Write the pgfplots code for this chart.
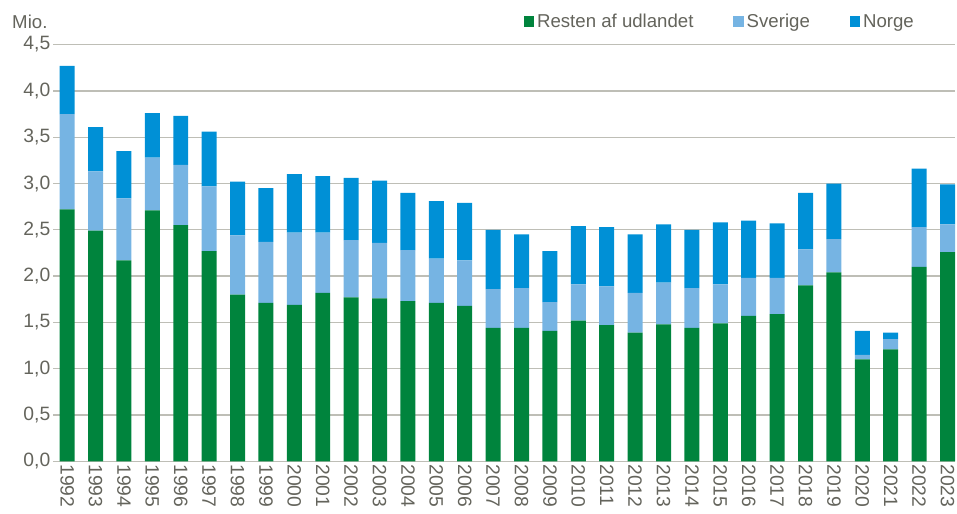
\documentclass[border=0pt]{standalone}
\usepackage{pgfplots}
\pgfplotsset{compat=1.18}
\usepackage{fontspec}
\setmainfont{Liberation Sans}
\definecolor{cgreen}{RGB}{0,132,61}
\definecolor{clight}{RGB}{118,180,227}
\definecolor{cblue}{RGB}{0,144,214}
\definecolor{ctext}{RGB}{100,100,92}
\definecolor{cgrid}{RGB}{190,190,182}
\begin{document}
\begin{tikzpicture}
\begin{axis}[
  scale only axis,
  width=677.8pt, height=313.2pt,
  ybar stacked, bar width=11.25pt,
  xmin=-0.49, xmax=31.27,
  ymin=0, ymax=4.5,
  ytick={0,0.5,...,4.5},
  xtick={0,...,31},
  xticklabels={1992,1993,1994,1995,1996,1997,1998,1999,2000,2001,2002,2003,2004,2005,2006,2007,2008,2009,2010,2011,2012,2013,2014,2015,2016,2017,2018,2019,2020,2021,2022,2023},
  xticklabel style={rotate=-90, anchor=west, font=\fontsize{14.5}{16}\selectfont, text=ctext, inner sep=2pt},
  yticklabel style={font=\fontsize{14.5}{16}\selectfont, text=ctext, inner sep=2pt},
  yticklabel={\pgfmathprintnumber[use comma,fixed,fixed zerofill,precision=1,assume math mode=true]{\tick}},
  ymajorgrids, grid style={cgrid, line width=1pt},
  axis lines*=left,
  x axis line style={cgrid, line width=1pt, -},
  y axis line style={draw=none},
  major tick length=0pt,
  tick style={draw=none},
  clip=false,
  legend style={draw=none, at={(0.517,1.055)}, anchor=west, font=\fontsize{14}{16}\selectfont, text=ctext, legend columns=3, /tikz/every even column/.append style={column sep=28pt}},
  legend image code/.code={\fill[#1] (0pt,-4pt) rectangle (8pt,4pt);},
]
\addplot[fill=cgreen, draw=none] coordinates {
(0,2.72) (1,2.49) (2,2.17) (3,2.71) (4,2.55) (5,2.27) (6,1.80) (7,1.71) (8,1.69) (9,1.82)
(10,1.77) (11,1.76) (12,1.73) (13,1.71) (14,1.68) (15,1.44) (16,1.44) (17,1.41) (18,1.52) (19,1.47)
(20,1.39) (21,1.48) (22,1.44) (23,1.49) (24,1.57) (25,1.59) (26,1.90) (27,2.04) (28,1.10) (29,1.21)
(30,2.10) (31,2.26)};
\addlegendentry{Resten af udlandet}
\addplot[fill=clight, draw=none] coordinates {
(0,1.03) (1,0.64) (2,0.67) (3,0.57) (4,0.65) (5,0.70) (6,0.64) (7,0.66) (8,0.78) (9,0.65)
(10,0.62) (11,0.60) (12,0.55) (13,0.48) (14,0.49) (15,0.42) (16,0.43) (17,0.31) (18,0.39) (19,0.42)
(20,0.43) (21,0.45) (22,0.43) (23,0.42) (24,0.41) (25,0.39) (26,0.39) (27,0.36) (28,0.05) (29,0.11)
(30,0.43) (31,0.30)};
\addlegendentry{Sverige}
\addplot[fill=cblue, draw=none] coordinates {
(0,0.52) (1,0.48) (2,0.51) (3,0.48) (4,0.53) (5,0.59) (6,0.58) (7,0.58) (8,0.63) (9,0.61)
(10,0.67) (11,0.67) (12,0.62) (13,0.62) (14,0.62) (15,0.64) (16,0.58) (17,0.55) (18,0.63) (19,0.64)
(20,0.63) (21,0.63) (22,0.63) (23,0.67) (24,0.62) (25,0.59) (26,0.61) (27,0.60) (28,0.26) (29,0.07)
(30,0.63) (31,0.43)};
\addlegendentry{Norge}
\node[anchor=west, font=\fontsize{14}{16}\selectfont, text=ctext, inner sep=0pt] at ([xshift=-31pt,yshift=17pt]rel axis cs:0,1) {Mio.};
\path ([xshift=-40pt,yshift=-39.5pt]rel axis cs:0,0) rectangle ([yshift=33.5pt]rel axis cs:1,1);
\end{axis}
\end{tikzpicture}
\end{document}
